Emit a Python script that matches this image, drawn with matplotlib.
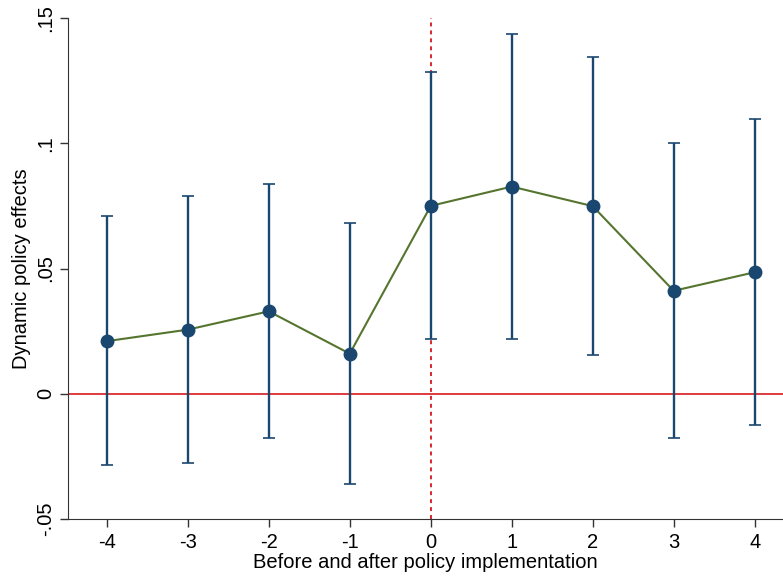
import matplotlib.pyplot as plt
import numpy as np

plt.rcParams['font.family'] = ['Liberation Sans', 'DejaVu Sans']
plt.rcParams['axes.unicode_minus'] = False

periods = [-4, -3, -2, -1, 0, 1, 2, 3, 4]
coef = [0.0210, 0.0256, 0.0329, 0.0160, 0.0750, 0.0827, 0.0749, 0.0411, 0.0485]
ci_low = [-0.0285, -0.0277, -0.0178, -0.0361, 0.0218, 0.0218, 0.0154, -0.0178, -0.0126]
ci_high = [0.0709, 0.0788, 0.0836, 0.0680, 0.1283, 0.1435, 0.1344, 0.1001, 0.1096]
yticks = [-0.05, 0, 0.05, 0.1, 0.15]
ytick_labels = ["-.05", "0", ".05", ".1", ".15"]

navy = "#1a476f"
green = "#55752f"
red = "#d7191c"

fig = plt.figure(figsize=(7.83, 5.77), dpi=100)
ax = fig.add_axes([0.0868, 0.1005, 0.9132, 0.8683])

coef = np.array(coef)
err = [coef - np.array(ci_low), np.array(ci_high) - coef]

ax.axhline(0, color=red, lw=1.2, zorder=1)
ax.axvline(0, color=red, lw=1.3, ls=(0, (2.2, 2.2)), zorder=1)
ax.errorbar(periods, coef, yerr=err, fmt="none", ecolor=navy, elinewidth=1.7,
            capsize=4.4, capthick=1.2, zorder=2)
ax.plot(periods, coef, color=green, lw=1.5, zorder=3)
ax.plot(periods, coef, "o", color=navy, ms=9, zorder=4)

ax.set_xlim(-4.48, 4.35)
ax.set_ylim(-0.05, 0.15)
ax.set_xticks(periods)
ax.set_yticks(yticks)
ax.set_yticklabels(ytick_labels, rotation=90, va="center")
ax.tick_params(labelsize=14.5, length=6, width=1, color="#333333", direction="out")
ax.tick_params(axis="x", pad=4)
ax.tick_params(axis="y", pad=3)
ax.spines["top"].set_visible(False)
ax.spines["right"].set_visible(False)
for s in ["left", "bottom"]:
    ax.spines[s].set_color("#333333")
ax.set_xlabel("Before and after policy implementation", fontsize=14.5, labelpad=1)
ax.set_ylabel("Dynamic policy effects", fontsize=14.5, labelpad=4)

fig.savefig("out.png", dpi=100)
